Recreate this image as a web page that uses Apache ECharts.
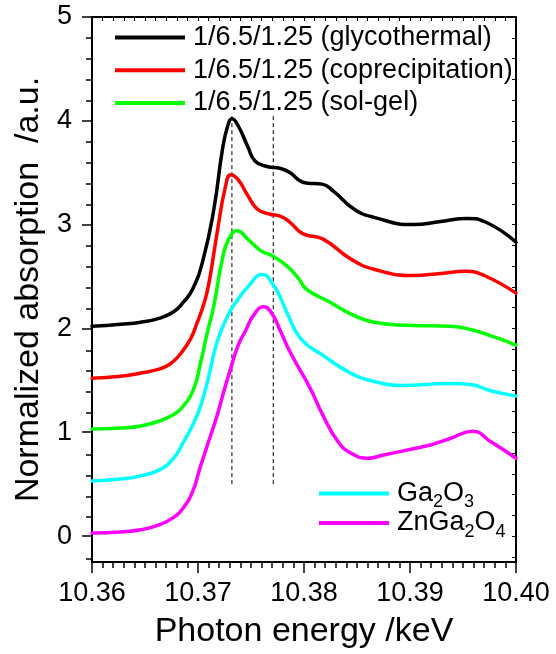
<!DOCTYPE html>
<html><head><meta charset="utf-8">
<script src="https://cdn.jsdelivr.net/npm/echarts@6/dist/echarts.min.js"></script>
<style>html,body{margin:0;padding:0;background:#fff}#c{width:556px;height:654px}</style>
</head><body><div id="c"></div>
<script>
const FONT = 'Liberation Sans, Arial, sans-serif';

const seriesNames = ['1/6.5/1.25 (glycothermal)', '1/6.5/1.25 (coprecipitation)', '1/6.5/1.25 (sol-gel)', 'Ga2O3', 'ZnGa2O4'];
const seriesColors = ['#000000', '#ff0000', '#00ff00', '#00ffff', '#ff00ff'];

const energyGlyco = [10.360, 10.3627, 10.3646, 10.3664, 10.3677, 10.3686, 10.3695, 10.3705, 10.3715, 10.3723, 10.3728, 10.3732, 10.3738, 10.3747, 10.3754, 10.3765, 10.3778, 10.3787, 10.3795, 10.3802, 10.3817, 10.3828, 10.3847, 10.3866, 10.3903, 10.3929, 10.3954, 10.3970, 10.4000];
const absGlyco    = [2.02, 2.04, 2.06, 2.10, 2.16, 2.25, 2.38, 2.67, 3.15, 3.72, 3.95, 4.02, 3.95, 3.75, 3.61, 3.56, 3.54, 3.50, 3.43, 3.40, 3.39, 3.32, 3.15, 3.07, 3.00, 3.03, 3.06, 3.03, 2.83];

const energyCopre = [10.360, 10.3627, 10.3646, 10.3664, 10.3674, 10.3683, 10.3693, 10.3699, 10.3705, 10.3710, 10.3718, 10.3726, 10.3731, 10.3738, 10.3747, 10.3756, 10.3768, 10.3778, 10.3787, 10.3795, 10.3802, 10.3818, 10.3844, 10.3866, 10.3903, 10.3929, 10.3953, 10.3970, 10.4000];
const absCopre    = [1.52, 1.54, 1.57, 1.61, 1.66, 1.75, 1.90, 2.05, 2.22, 2.42, 2.92, 3.37, 3.48, 3.43, 3.28, 3.15, 3.10, 3.08, 3.02, 2.94, 2.90, 2.86, 2.67, 2.57, 2.51, 2.53, 2.55, 2.51, 2.34];

const energySolgel = [10.360, 10.3627, 10.3646, 10.3664, 10.3677, 10.3686, 10.3696, 10.3702, 10.3709, 10.3715, 10.3723, 10.3729, 10.3737, 10.3747, 10.3759, 10.3770, 10.3784, 10.3795, 10.3802, 10.3825, 10.3844, 10.3866, 10.3898, 10.3938, 10.3957, 10.3976, 10.4000];
const absSolgel    = [1.03, 1.04, 1.06, 1.11, 1.17, 1.25, 1.42, 1.65, 1.97, 2.22, 2.67, 2.86, 2.94, 2.86, 2.75, 2.70, 2.60, 2.48, 2.38, 2.25, 2.14, 2.06, 2.03, 2.02, 1.99, 1.93, 1.84];

const energyGa2O3 = [10.360, 10.3627, 10.3646, 10.3664, 10.3677, 10.3686, 10.3695, 10.3702, 10.3709, 10.3718, 10.3728, 10.3737, 10.3747, 10.3761, 10.3771, 10.3778, 10.3784, 10.3797, 10.3818, 10.3844, 10.3866, 10.3891, 10.3938, 10.3957, 10.3976, 10.4000];
const absGa2O3    = [0.53, 0.55, 0.58, 0.64, 0.75, 0.90, 1.07, 1.24, 1.49, 1.87, 2.12, 2.27, 2.40, 2.52, 2.42, 2.29, 2.15, 1.90, 1.74, 1.57, 1.49, 1.45, 1.47, 1.46, 1.40, 1.35];

const energyZnGa2O4 = [10.360, 10.3627, 10.3646, 10.3664, 10.3677, 10.3686, 10.3695, 10.3702, 10.3710, 10.3718, 10.3724, 10.3731, 10.3738, 10.3745, 10.3752, 10.3762, 10.3770, 10.3778, 10.3787, 10.3806, 10.3818, 10.3832, 10.3844, 10.3860, 10.3875, 10.3898, 10.3920, 10.3938, 10.3959, 10.3976, 10.4000];
const absZnGa2O4    = [0.03, 0.04, 0.06, 0.11, 0.18, 0.27, 0.43, 0.66, 0.91, 1.16, 1.38, 1.62, 1.84, 1.98, 2.12, 2.21, 2.14, 1.97, 1.77, 1.42, 1.16, 0.91, 0.80, 0.75, 0.78, 0.83, 0.88, 0.94, 1.01, 0.91, 0.75];

const dashEnergies = [10.3732, 10.3771];
const dashRange = [0.5, 4.07];

const yTickValues = [0, 1, 2, 3, 4, 5];
const yMinorTickValues = [-0.2, 0.2, 0.4, 0.6, 0.8, 1.2, 1.4, 1.6, 1.8, 2.2, 2.4, 2.6, 2.8, 3.2, 3.4, 3.6, 3.8, 4.2, 4.4, 4.6, 4.8];
const yAllTickValues = [-0.2, 0, 0.2, 0.4, 0.6, 0.8, 1, 1.2, 1.4, 1.6, 1.8, 2, 2.2, 2.4, 2.6, 2.8, 3, 3.2, 3.4, 3.6, 3.8, 4, 4.2, 4.4, 4.6, 4.8, 5];

const energies = [energyGlyco, energyCopre, energySolgel, energyGa2O3, energyZnGa2O4];
const absorbs = [absGlyco, absCopre, absSolgel, absGa2O3, absZnGa2O4];

const chart = echarts.init(document.getElementById('c'), null, {renderer: 'canvas'});

const lineSeries = seriesNames.map((name, i) => ({
  name: name,
  type: 'line',
  xAxisIndex: 0, yAxisIndex: 0,
  data: energies[i].map((x, k) => [x, absorbs[i][k]]),
  smooth: 0.5,
  showSymbol: false,
  symbol: 'none',
  color: seriesColors[i],
  itemStyle: {color: seriesColors[i]},
  lineStyle: {color: seriesColors[i], width: 3.5, join: 'round', cap: 'round'},
  z: 10 - i,
  silent: true
}));

const dashSeries = dashEnergies.map((e, i) => ({
  name: 'dash' + i,
  type: 'line',
  xAxisIndex: 0, yAxisIndex: 0,
  data: dashRange.map(v => [e, v]),
  showSymbol: false,
  symbol: 'none',
  lineStyle: {color: '#000', width: 1, type: [4, 3]},
  z: 1,
  silent: true
}));

const gridRect = {left: 92, right: 40, top: 17, bottom: 90};

const option = {
  animation: false,
  backgroundColor: '#fff',
  grid: [Object.assign({}, gridRect), Object.assign({}, gridRect)],
  xAxis: [
    {
      gridIndex: 0, type: 'value', position: 'bottom',
      min: 10.36, max: 10.40, interval: 0.01,
      name: 'Photon energy /keV', nameLocation: 'middle', nameGap: 53,
      nameTextStyle: {fontFamily: FONT, fontSize: 34, color: '#000'},
      axisLine: {show: true, onZero: false, lineStyle: {color: '#000', width: 2}},
      axisTick: {show: true, inside: false, length: 11, lineStyle: {color: '#000', width: 1.5}},
      minorTick: {show: true, splitNumber: 10, length: 6, lineStyle: {color: '#000', width: 1.5}},
      axisLabel: {show: true, margin: 18, fontFamily: FONT, fontSize: 27, color: '#000', formatter: v => v.toFixed(2)},
      splitLine: {show: false}, minorSplitLine: {show: false}
    },
    {
      gridIndex: 0, type: 'value', position: 'top',
      min: 10.36, max: 10.40, interval: 0.01,
      axisLine: {show: true, onZero: false, lineStyle: {color: '#000', width: 2}},
      axisTick: {show: true, inside: true, length: 4, lineStyle: {color: '#000', width: 1}},
      minorTick: {show: true, splitNumber: 10, length: 4, lineStyle: {color: '#000', width: 1}},
      axisLabel: {show: false},
      splitLine: {show: false}
    },
    {
      gridIndex: 1, type: 'value', show: false, min: 10.36, max: 10.40
    }
  ],
  yAxis: [
    {
      gridIndex: 0, type: 'value', position: 'left',
      min: -0.25, max: 5,
      name: 'Normalized absorption  /a.u.', nameLocation: 'middle', nameGap: 46,
      nameTextStyle: {fontFamily: FONT, fontSize: 34, color: '#000'},
      axisLine: {show: true, onZero: false, lineStyle: {color: '#000', width: 2}},
      axisTick: {show: true, inside: false, length: 10, customValues: yTickValues, lineStyle: {color: '#000', width: 1.5}},
      axisLabel: {show: true, margin: 20, fontFamily: FONT, fontSize: 27, color: '#000', customValues: yTickValues},
      splitLine: {show: false}
    },
    {
      gridIndex: 0, type: 'value', position: 'right',
      min: -0.25, max: 5,
      axisLine: {show: true, onZero: false, lineStyle: {color: '#000', width: 2}},
      axisTick: {show: true, inside: true, length: 4, customValues: yAllTickValues, lineStyle: {color: '#000', width: 1}},
      axisLabel: {show: false},
      splitLine: {show: false}
    },
    {
      gridIndex: 1, type: 'value', position: 'left',
      min: -0.25, max: 5,
      axisLine: {show: false},
      axisTick: {show: true, inside: false, length: 6, customValues: yMinorTickValues, lineStyle: {color: '#000', width: 1.5}},
      axisLabel: {show: false},
      splitLine: {show: false}
    }
  ],
  legend: [
    {
      data: seriesNames.slice(0, 3),
      orient: 'vertical', left: 115, top: 21, padding: 0,
      icon: 'rect', itemWidth: 70, itemHeight: 4, itemGap: -0.3,
      selectedMode: false,
      textStyle: {fontFamily: FONT, fontSize: 27, color: '#000', lineHeight: 33, padding: [0, 0, 0, 3]}
    },
    {
      data: seriesNames.slice(3),
      orient: 'vertical', left: 319, top: 480, padding: 0,
      icon: 'rect', itemWidth: 70, itemHeight: 4, itemGap: -2,
      selectedMode: false,
      formatter: function (name) {
        if (name === 'Ga2O3') return '{n|Ga}{s|2}{n|O}{s|3}';
        return '{n|ZnGa}{s|2}{n|O}{s|4}';
      },
      textStyle: {
        fontFamily: FONT, fontSize: 27, color: '#000', padding: [0, 0, 0, 3],
        rich: {
          n: {fontFamily: FONT, fontSize: 27, color: '#000', lineHeight: 36, verticalAlign: 'middle'},
          s: {fontFamily: FONT, fontSize: 18, color: '#000', lineHeight: 18, verticalAlign: 'bottom'}
        }
      }
    }
  ],
  series: dashSeries.concat(lineSeries)
};
chart.setOption(option);
</script>
</body></html>
